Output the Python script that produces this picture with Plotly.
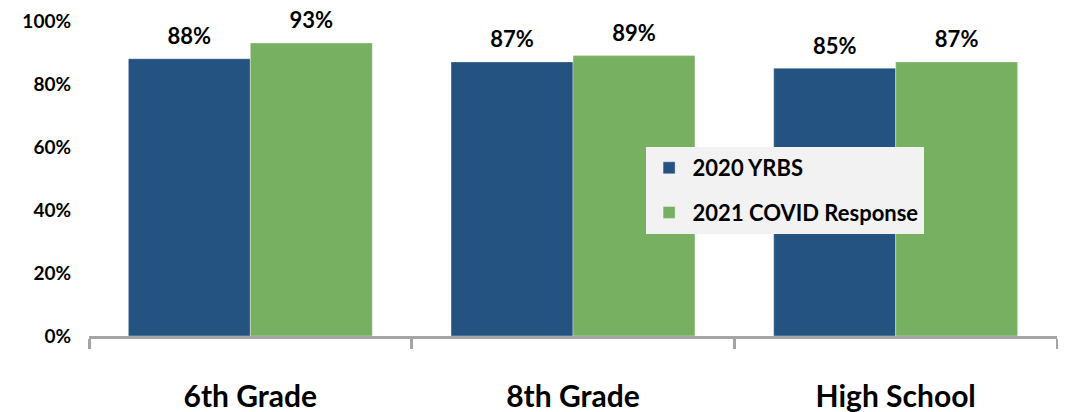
import plotly.graph_objects as go

categories = ["6th Grade", "8th Grade", "High School"]
yrbs_2020 = [88, 87, 85]
covid_2021 = [93, 89, 87]
series_names = ["2020 YRBS", "2021 COVID Response"]
y_ticks = [0, 20, 40, 60, 80, 100]
y_tick_labels = ["0%", "20%", "40%", "60%", "80%", "100%"]

BLUE = "#245381"
GREEN = "#78B061"
FONT = "Lato, Carlito, Calibri, sans-serif"
GAP = 0.244

fig = go.Figure()
for name, vals, col, grp in [(series_names[0], yrbs_2020, BLUE, "a"),
                             (series_names[1], covid_2021, GREEN, "b")]:
    fig.add_trace(go.Bar(
        x=categories, y=vals, name=name, marker_color=col,
        marker_line=dict(color="rgba(255,255,255,0.35)", width=1),
        offsetgroup=grp, legendgroup=grp,
    ))
for vals, grp in [(yrbs_2020, "a"), (covid_2021, "b")]:
    fig.add_trace(go.Scatter(
        x=categories, y=vals, mode="markers+text",
        text=[f"{v}%" for v in vals], textposition="top center",
        marker=dict(size=13, color="rgba(0,0,0,0)"),
        textfont=dict(family=FONT, size=22, color="#000000", weight="bold"),
        offsetgroup=grp, showlegend=False, hoverinfo="skip", cliponaxis=False,
    ))

fig.update_layout(
    width=1066, height=412,
    margin=dict(l=81, r=17, t=12, b=84, autoexpand=False),
    paper_bgcolor="white", plot_bgcolor="white",
    barmode="group", bargap=GAP, bargroupgap=0,
    scattermode="group", scattergap=GAP,
    font=dict(family=FONT, color="#000000"),
    legend=dict(
        x=0.575, y=0.598, xanchor="left", yanchor="top",
        bgcolor="#f2f2f2", borderwidth=0, itemwidth=37,
        font=dict(family=FONT, size=22, color="#000000", weight="bold"),
        tracegroupgap=13,
    ),
    showlegend=True,
)
fig.update_xaxes(
    type="category", tickson="boundaries", ticks="outside", ticklen=10,
    tickwidth=3, tickcolor="#a5a5a5", showline=True, linecolor="#a5a5a5",
    linewidth=3, showgrid=False, automargin=False,
    tickfont=dict(family=FONT, size=30, color="#000000", weight="bold"),
    ticklabelstandoff=32,
)
fig.update_yaxes(
    range=[0, 100.3], tickvals=y_ticks, ticktext=y_tick_labels,
    showgrid=False, zeroline=False, showline=False, ticks="",
    automargin=False,
    tickfont=dict(family=FONT, size=19, color="#000000", weight="bold"),
    ticklabelstandoff=17,
)

fig.write_html("out.html")
